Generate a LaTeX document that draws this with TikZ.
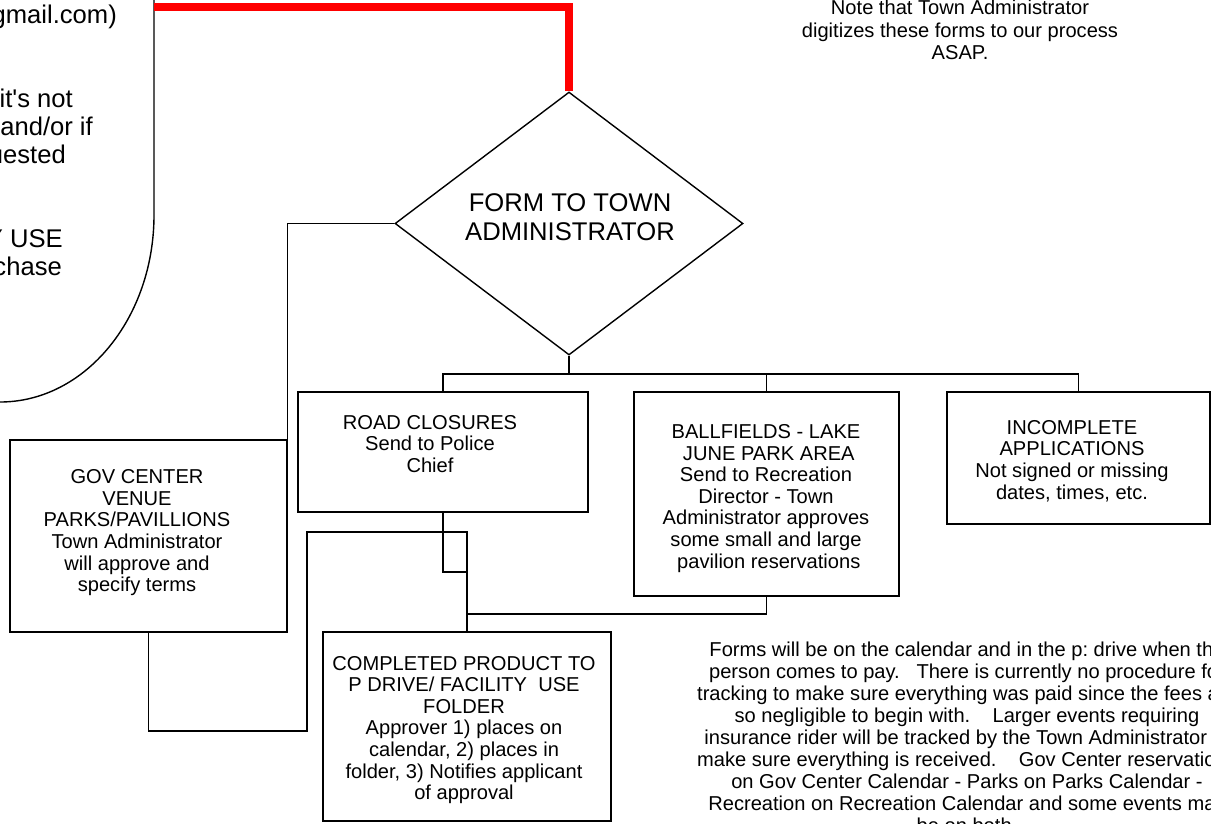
\documentclass[tikz,border=0pt]{standalone}
\usepackage{fontspec}
\setmainfont{Liberation Sans}[Ligatures=TeXOff]
\usetikzlibrary{shapes.geometric}
\tikzset{
  edge/.style={draw=black, line width=1.4pt},
  boxnode/.style={draw=black, line width=1.4pt, rectangle, inner sep=0pt},
  diamondnode/.style={draw=black, line width=1.4pt, diamond, inner sep=0pt},
  redline/.style={draw=red, line width=7.3pt},
  boxtext/.style={align=center, inner sep=0pt, font=\fontsize{20.1}{21.6}\selectfont},
  bigtext/.style={align=center, inner sep=0pt, font=\fontsize{25.6}{28.4}\selectfont},
  roundtext/.style={anchor=base east, inner sep=0pt, font=\fontsize{25.6}{28}\selectfont},
  notetext/.style={align=center, inner sep=0pt, font=\fontsize{20.1}{22.2}\selectfont},
  longtext/.style={align=center, inner sep=0pt, font=\fontsize{20.1}{22}\selectfont},
}
\begin{document}
\frenchspacing
\begin{tikzpicture}[x=1pt,y=-1pt]
\useasboundingbox (0,0) rectangle (1211,823);
\clip (0,0) rectangle (1211,823);

% rounded shape (cropped)
\coordinate (rtop) at (154,7);
\draw[edge] (154,-10) -- (154,215) arc[start angle=0,end angle=90,x radius=154,y radius=187] -- (-10,402);
\node[roundtext] (r1) at (117,23.5) {gmail.com)};
\node[roundtext] (r2) at (73,107.5) {it's not};
\node[roundtext] (r3) at (93,135.5) {and/or if};
\node[roundtext] (r4) at (66,163.5) {uested};
\node[roundtext] (r5) at (63,247.5) {Y USE};
\node[roundtext] (r6) at (62,275.5) {chase};

% note
\node[notetext] (note) at (960,30) {Note that Town Administrator\\digitizes these forms to our process\\ASAP.};

% diamond
\node[diamondnode, minimum width=348pt, minimum height=263pt] (dia) at (569,223.5) {};
\node[bigtext] (diatext) at (570,217) {FORM TO TOWN\\ADMINISTRATOR};

% boxes
\node[boxnode, minimum width=277pt, minimum height=192pt] (gov) at (148.5,536) {};
\node[boxtext] (govtext) at (137,532.8) {GOV CENTER\\VENUE\\PARKS/PAVILLIONS\\Town Administrator\\will approve and\\specify terms};

\node[boxnode, minimum width=290pt, minimum height=120pt] (road) at (443,452) {};
\node[boxtext] (roadtext) at (430,443.7) {ROAD CLOSURES\\Send to Police\\Chief};

\node[boxnode, minimum width=265pt, minimum height=204pt] (ball) at (766.5,494) {};
\node[boxtext] (balltext) at (766,498.3) {BALLFIELDS - LAKE\\\ JUNE PARK AREA\\Send to Recreation\\Director - Town\\Administrator approves\\some small and large\\\ pavilion reservations};

\node[boxnode, minimum width=263pt, minimum height=132pt] (inc) at (1078.5,458) {};
\node[boxtext] (inctext) at (1072,461) {INCOMPLETE\\APPLICATIONS\\Not signed or missing\\dates, times, etc.};

\node[boxnode, minimum width=288pt, minimum height=189pt] (comp) at (467,726.5) {};
\node[boxtext] (comptext) at (464,730) {COMPLETED PRODUCT TO\\P DRIVE/ FACILITY\ \ USE\\FOLDER\\Approver 1) places on\\calendar, 2) places in\\folder, 3) Notifies applicant\\of approval};

% long note
\node[longtext] (longnote) at (967,737.5) {Forms will be on the calendar and in the p: drive when the\\person comes to pay.\ \ \ There is currently no procedure for\\tracking to make sure everything was paid since the fees are\\so negligible to begin with.\ \ \ \ Larger events requiring\\insurance rider will be tracked by the Town Administrator to\\make sure everything is received.\ \ \ \ Gov Center reservations\\on Gov Center Calendar - Parks on Parks Calendar -\\Recreation on Recreation Calendar and some events may\\be on both.};

% connectors
\draw[redline] (rtop) -| (dia.north);
\draw[edge] (dia.west) -| (gov.north east);
\coordinate (bus) at (569,374);
\draw[edge] (dia.south) -- (bus);
\draw[edge] (road.north) |- (bus) -| (inc.north);
\draw[edge] (ball.north) -- (ball.north |- bus);
\coordinate (jr) at (467,572);
\coordinate (jb) at (467,614);
\coordinate (gb) at (307,731);
\coordinate (gt) at (307,532);
\draw[edge] (road.south) |- (jr);
\draw[edge] (ball.south) |- (jb);
\draw[edge] (gov.south) |- (gb) -- (gt) -| (comp.north);
\end{tikzpicture}
\end{document}
